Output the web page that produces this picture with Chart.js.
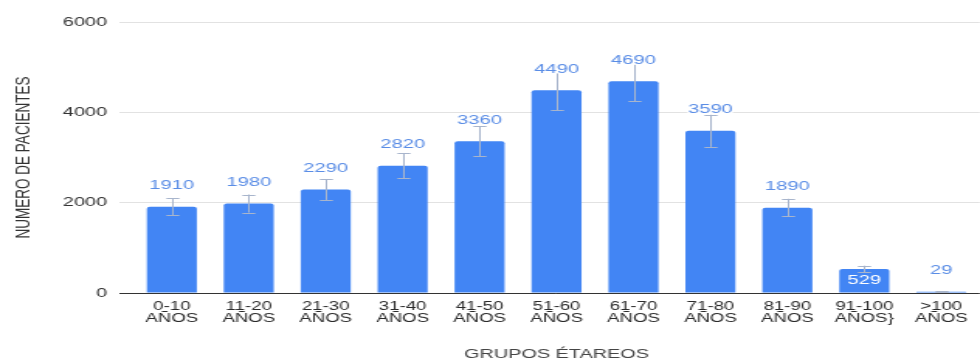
<!DOCTYPE html>
<html>
<head>
<meta charset="utf-8">
<script src="https://cdn.jsdelivr.net/npm/chart.js@4.4.1/dist/chart.umd.min.js"></script>
<style>
  html, body { margin: 0; padding: 0; background: #fff; }
</style>
</head>
<body>
<!-- the reference looks horizontally stretched, so draw narrow and stretch with inline css -->
<canvas id="chart" width="632" height="361" style="display:block;width:980px;height:361px;"></canvas>
<script>
const ageGroups = [
    ["0-10", "AÑOS"],
    ["11-20", "AÑOS"],
    ["21-30", "AÑOS"],
    ["31-40", "AÑOS"],
    ["41-50", "AÑOS"],
    ["51-60", "AÑOS"],
    ["61-70", "AÑOS"],
    ["71-80", "AÑOS"],
    ["81-90", "AÑOS"],
    ["91-100", "AÑOS}"],
    [">100", "AÑOS"],
];
const patients = [1910, 1980, 2290, 2820, 3360, 4490, 4690, 3590, 1890, 529, 29];
const errors = [190, 200, 230, 280, 335, 440, 450, 355, 195, 75, 5];
const yTicks = [0, 2000, 4000, 6000];

const BLUE = "#4285f4";
const FONT = "'Liberation Sans', Arial, sans-serif";
Chart.defaults.font.family = FONT;

const errorBars = {
    id: "errorBars",
    afterDatasetsDraw(chart) {
        const ctx = chart.ctx;
        const y = chart.scales.y;
        const meta = chart.getDatasetMeta(0);
        ctx.save();
        ctx.strokeStyle = "#a8b5cc";
        ctx.lineWidth = 1;
        meta.data.forEach((bar, i) => {
            const top = y.getPixelForValue(patients[i] + errors[i]);
            const bot = y.getPixelForValue(patients[i] - errors[i]);
            const x = Math.round(bar.x) + 0.5;
            ctx.beginPath();
            ctx.moveTo(x, top);
            ctx.lineTo(x, bot);
            ctx.moveTo(x - 4.2, Math.round(top) + 0.5);
            ctx.lineTo(x + 4.2, Math.round(top) + 0.5);
            ctx.moveTo(x - 4.2, Math.round(bot) + 0.5);
            ctx.lineTo(x + 4.2, Math.round(bot) + 0.5);
            ctx.stroke();
        });
        // value labels, with a white halo like the original
        ctx.font = "13px " + FONT;
        ctx.textAlign = "center";
        ctx.textBaseline = "middle";
        ctx.lineJoin = "round";
        meta.data.forEach((bar, i) => {
            const h = bar.base - bar.y;
            const txt = String(patients[i]);
            if (h > 15 && h < 40) {
                ctx.fillStyle = "#ffffff";
                ctx.fillText(txt, bar.x, (bar.y + bar.base) / 2);
            } else {
                ctx.strokeStyle = "#ffffff";
                ctx.lineWidth = 3;
                ctx.strokeText(txt, bar.x, bar.y - 21);
                ctx.fillStyle = "#5a8de6";
                ctx.fillText(txt, bar.x, bar.y - 21);
            }
        });
        ctx.restore();
    }
};

new Chart(document.getElementById("chart"), {
    type: "bar",
    plugins: [errorBars],
    data: {
        labels: ageGroups,
        datasets: [{
            data: patients,
            backgroundColor: BLUE,
            borderRadius: 2,
            borderSkipped: "bottom",
            barPercentage: 0.65,
            categoryPercentage: 1,
        }],
    },
    options: {
        responsive: false,
        devicePixelRatio: 1,
        animation: false,
        layout: { padding: { top: 22, right: 0, bottom: 0, left: 0 } },
        plugins: {
            legend: { display: false },
            tooltip: { enabled: false },
        },
        scales: {
            x: {
                grid: { display: false, drawTicks: false },
                border: { display: false },
                ticks: {
                    autoSkip: false,
                    maxRotation: 0,
                    padding: 8,
                    color: "#2a2a2a",
                    font: { size: 12, lineHeight: 1.0 },
                },
                title: {
                    display: true,
                    text: "GRUPOS ÉTAREOS",
                    color: "#444",
                    font: { size: 12.8, lineHeight: 1 },
                    padding: { top: 0, bottom: 0 },
                },
                afterFit: (scale) => { scale.height = 68; },
            },
            y: {
                min: 0,
                max: 6000,
                afterBuildTicks: (scale) => {
                    scale.ticks = yTicks.map((v) => ({ value: v }));
                },
                grid: {
                    color: (c) => (c.tick && c.tick.value === 0 ? "#333" : "#e2e2e2"),
                    lineWidth: 1,
                    tickLength: 9,
                },
                border: { display: false },
                ticks: {
                    padding: 8,
                    color: "#333",
                    font: { size: 12.8 },
                    callback: (v) => String(v),
                },
                title: {
                    display: true,
                    text: "NUMERO DE PACIENTES",
                    color: "#333",
                    font: { size: 13.5, lineHeight: 1.2 },
                    padding: { top: 7, bottom: 0 },
                },
                afterFit: (scale) => { scale.width = 86; },
            },
        },
    },
});
</script>
</body>
</html>
